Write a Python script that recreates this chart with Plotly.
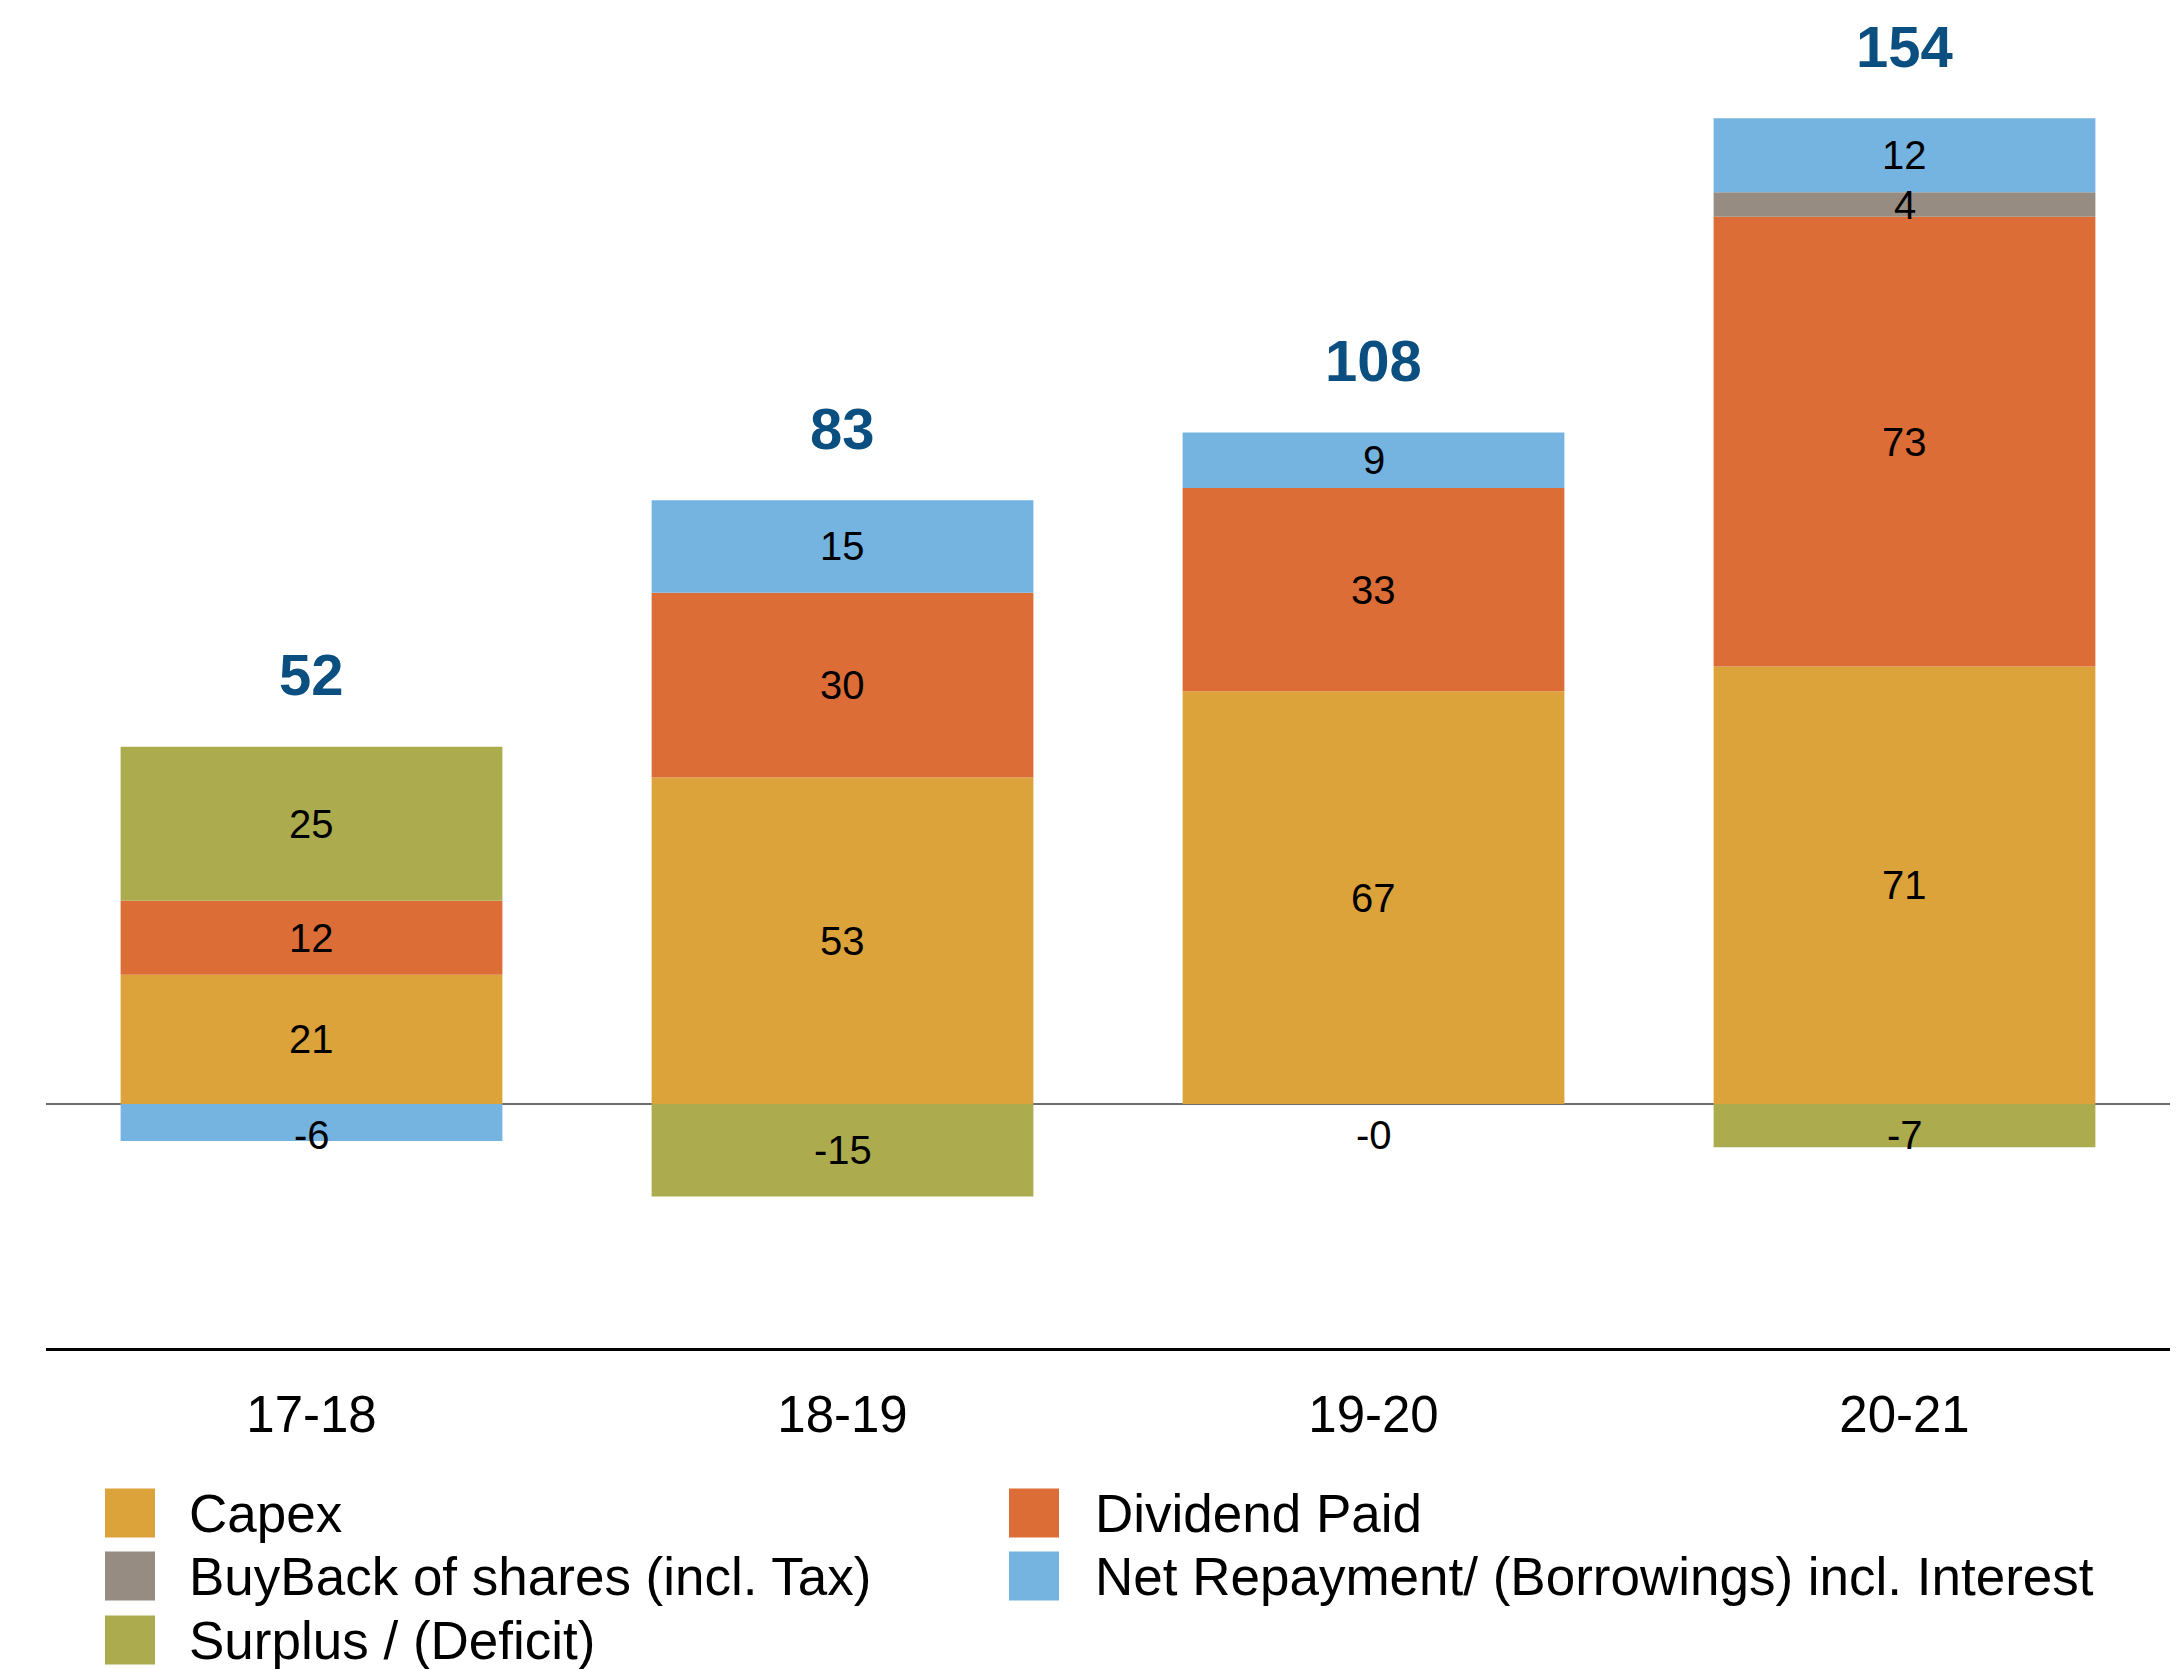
import plotly.graph_objects as go

categories = ["17-18", "18-19", "19-20", "20-21"]
capex = [21, 53, 67, 71]
dividend = [12, 30, 33, 73]
buyback = [0, 0, 0, 4]
net_repay = [-6, 15, 9, 12]
surplus = [25, -15, -0.0, -7]
totals = [52, 83, 108, 154]

series = [
    ("Capex", capex, "#DBA339"),
    ("Dividend Paid", dividend, "#DC6D36"),
    ("BuyBack of shares (incl. Tax)", buyback, "#978C82"),
    ("Net Repayment/ (Borrowings) incl. Interest", net_repay, "#75B4E0"),
    ("Surplus / (Deficit)", surplus, "#ACAC4F"),
]

W, H = 2177, 1669
ML, MR, MT, MB = 46, 7, 0, 321
PH = H - MT - MB
PW = W - ML - MR
FONT = "Liberation Sans, Arial, Helvetica, sans-serif"

fig = go.Figure()
for name, vals, col in series:
    fig.add_trace(go.Bar(x=categories, y=vals, name=name, marker_color=col,
                         marker_line_width=0, showlegend=False, hoverinfo="x+y+name"))

# segment labels
annotations = []
pos_base = [0.0] * len(categories)
for name, vals, col in series:
    for i, v in enumerate(vals):
        is_neg = v < 0 or (v == 0 and str(v).startswith("-"))
        if not is_neg:
            if v > 0:
                mid = pos_base[i] + v / 2.0
                annotations.append(dict(x=categories[i], y=mid, text=f"{v:g}",
                                        showarrow=False, font=dict(size=40, color="black", family=FONT),
                                        xref="x", yref="y"))
                pos_base[i] += v
        else:
            mid = min(v / 2.0, -5.1)
            txt = f"{v:g}" if v != 0 else "-0"
            annotations.append(dict(x=categories[i], y=mid, text=txt,
                                    showarrow=False, font=dict(size=40, color="black", family=FONT),
                                    xref="x", yref="y"))

# total labels above positive stack
for i, t in enumerate(totals):
    annotations.append(dict(x=categories[i], y=pos_base[i], text=f"<b>{t}</b>",
                            showarrow=False, yshift=72, yanchor="middle",
                            font=dict(size=58, color="#0B4F80", family=FONT),
                            xref="x", yref="y"))

# manual legend (pixel layout converted to paper coordinates)
def px_x(px):
    return (px - ML) / PW

def px_y(py):
    return (H - MB - py) / PH

swatch_x = [105, 1009]
text_x = [187, 1093]
legend_rows = [1513, 1576, 1640]
shapes = []
for k, (name, vals, col) in enumerate(series):
    c = k % 2
    r = k // 2
    cy = legend_rows[r]
    shapes.append(dict(type="rect", xref="paper", yref="paper",
                       x0=px_x(swatch_x[c]), x1=px_x(swatch_x[c] + 50),
                       y0=px_y(cy + 24.5), y1=px_y(cy - 24.5),
                       fillcolor=col, line=dict(width=0)))
    annotations.append(dict(xref="paper", yref="paper", x=px_x(text_x[c]), y=px_y(cy),
                            xanchor="left", yanchor="middle", text=name, showarrow=False,
                            font=dict(size=53, color="black", family=FONT)))

fig.update_layout(
    barmode="relative",
    bargap=0.281,
    width=W, height=H,
    margin=dict(l=ML, r=MR, t=MT, b=MB),
    paper_bgcolor="white", plot_bgcolor="white",
    font=dict(family=FONT, color="black"),
    annotations=annotations,
    shapes=shapes,
    xaxis=dict(showline=True, linecolor="black", linewidth=3, ticks="",
               tickfont=dict(size=51, color="black", family=FONT), showgrid=False,
               ticklabelstandoff=20),
    yaxis=dict(range=[-39.6, 179.2], showgrid=False, showticklabels=False, ticks="",
               zeroline=True, zerolinecolor="#6E6E6E", zerolinewidth=2, showline=False),
)

fig.write_html("out.html", config={"displayModeBar": False},
               post_script="document.body.style.margin='0';document.body.style.overflow='hidden';")
